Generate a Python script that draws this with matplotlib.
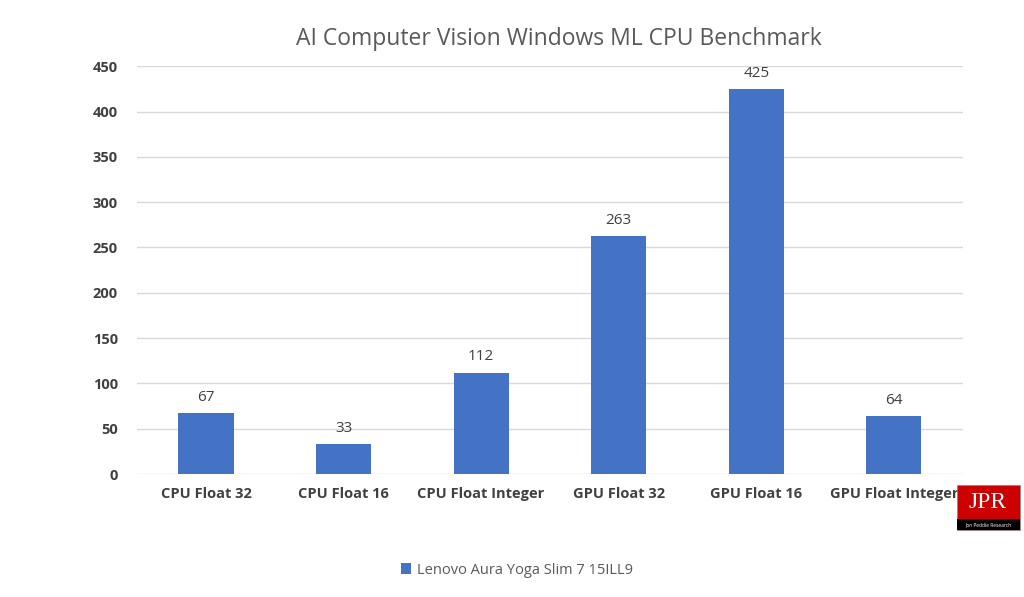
import matplotlib.pyplot as plt
from matplotlib.patches import Rectangle

categories = ['CPU Float 32', 'CPU Float 16', 'CPU Float Integer',
              'GPU Float 32', 'GPU Float 16', 'GPU Float Integer']
scores = [67, 33, 112, 263, 425, 64]
series_name = 'Lenovo Aura Yoga Slim 7 15ILL9'
title = 'AI Computer Vision Windows ML CPU Benchmark'

plt.rcParams['font.family'] = ['Open Sans', 'DejaVu Sans']

fig = plt.figure(figsize=(10.24, 5.97), dpi=100)
ax = fig.add_axes([0.134, 0.206, 0.806, 0.683])

x = range(len(categories))
bars = ax.bar(x, scores, width=0.4, color='#4472C4', label=series_name, zorder=3)
for xi, v in zip(x, scores):
    ax.text(xi, v + 9, str(v), ha='center', va='bottom', fontsize=11, color='#404040')

ax.set_xlim(-0.5, len(categories) - 0.5)
ax.set_ylim(0, 450)
ax.set_yticks(range(0, 451, 50))
ax.set_xticks(list(x))
ax.set_xticklabels(categories, fontsize=10.5, fontweight='bold', color='#404040')
ax.tick_params(axis='y', labelsize=10.5, colors='#404040', length=0, pad=14)
ax.tick_params(axis='x', length=0, pad=9)
for lbl in ax.get_yticklabels():
    lbl.set_fontweight('bold')
ax.grid(axis='y', color='#D9D9D9', linewidth=1, zorder=0)
for s in ax.spines.values():
    s.set_visible(False)

fig.text(0.546, 0.935, title, ha='center', va='center', fontsize=16.5, color='#595959')

fig.legend(loc='center', bbox_to_anchor=(0.505, 0.045), frameon=False,
           fontsize=10.5, handlelength=0.7, handleheight=0.7, handletextpad=0.4,
           labelcolor='#595959')

# JPR logo
fig.patches.append(Rectangle((957 / 1024, 1 - 530 / 597), 63 / 1024, 45 / 597,
                             transform=fig.transFigure, facecolor='#CC0000',
                             edgecolor='#888888', linewidth=0.5, zorder=5))
fig.patches.append(Rectangle((957 / 1024, 1 - 530 / 597), 63 / 1024, 11 / 597,
                             transform=fig.transFigure, facecolor='black', zorder=6))
fig.text(988 / 1024, 1 - 503 / 597, 'JPR', ha='center', va='center', fontsize=17,
         family='Liberation Serif', color='white', zorder=7)
fig.text(988 / 1024, 1 - 524.5 / 597, 'Jon Peddie Research', ha='center', va='center',
         fontsize=3.5, color='white', zorder=7)

fig.savefig('out.png', dpi=100, facecolor='white')
